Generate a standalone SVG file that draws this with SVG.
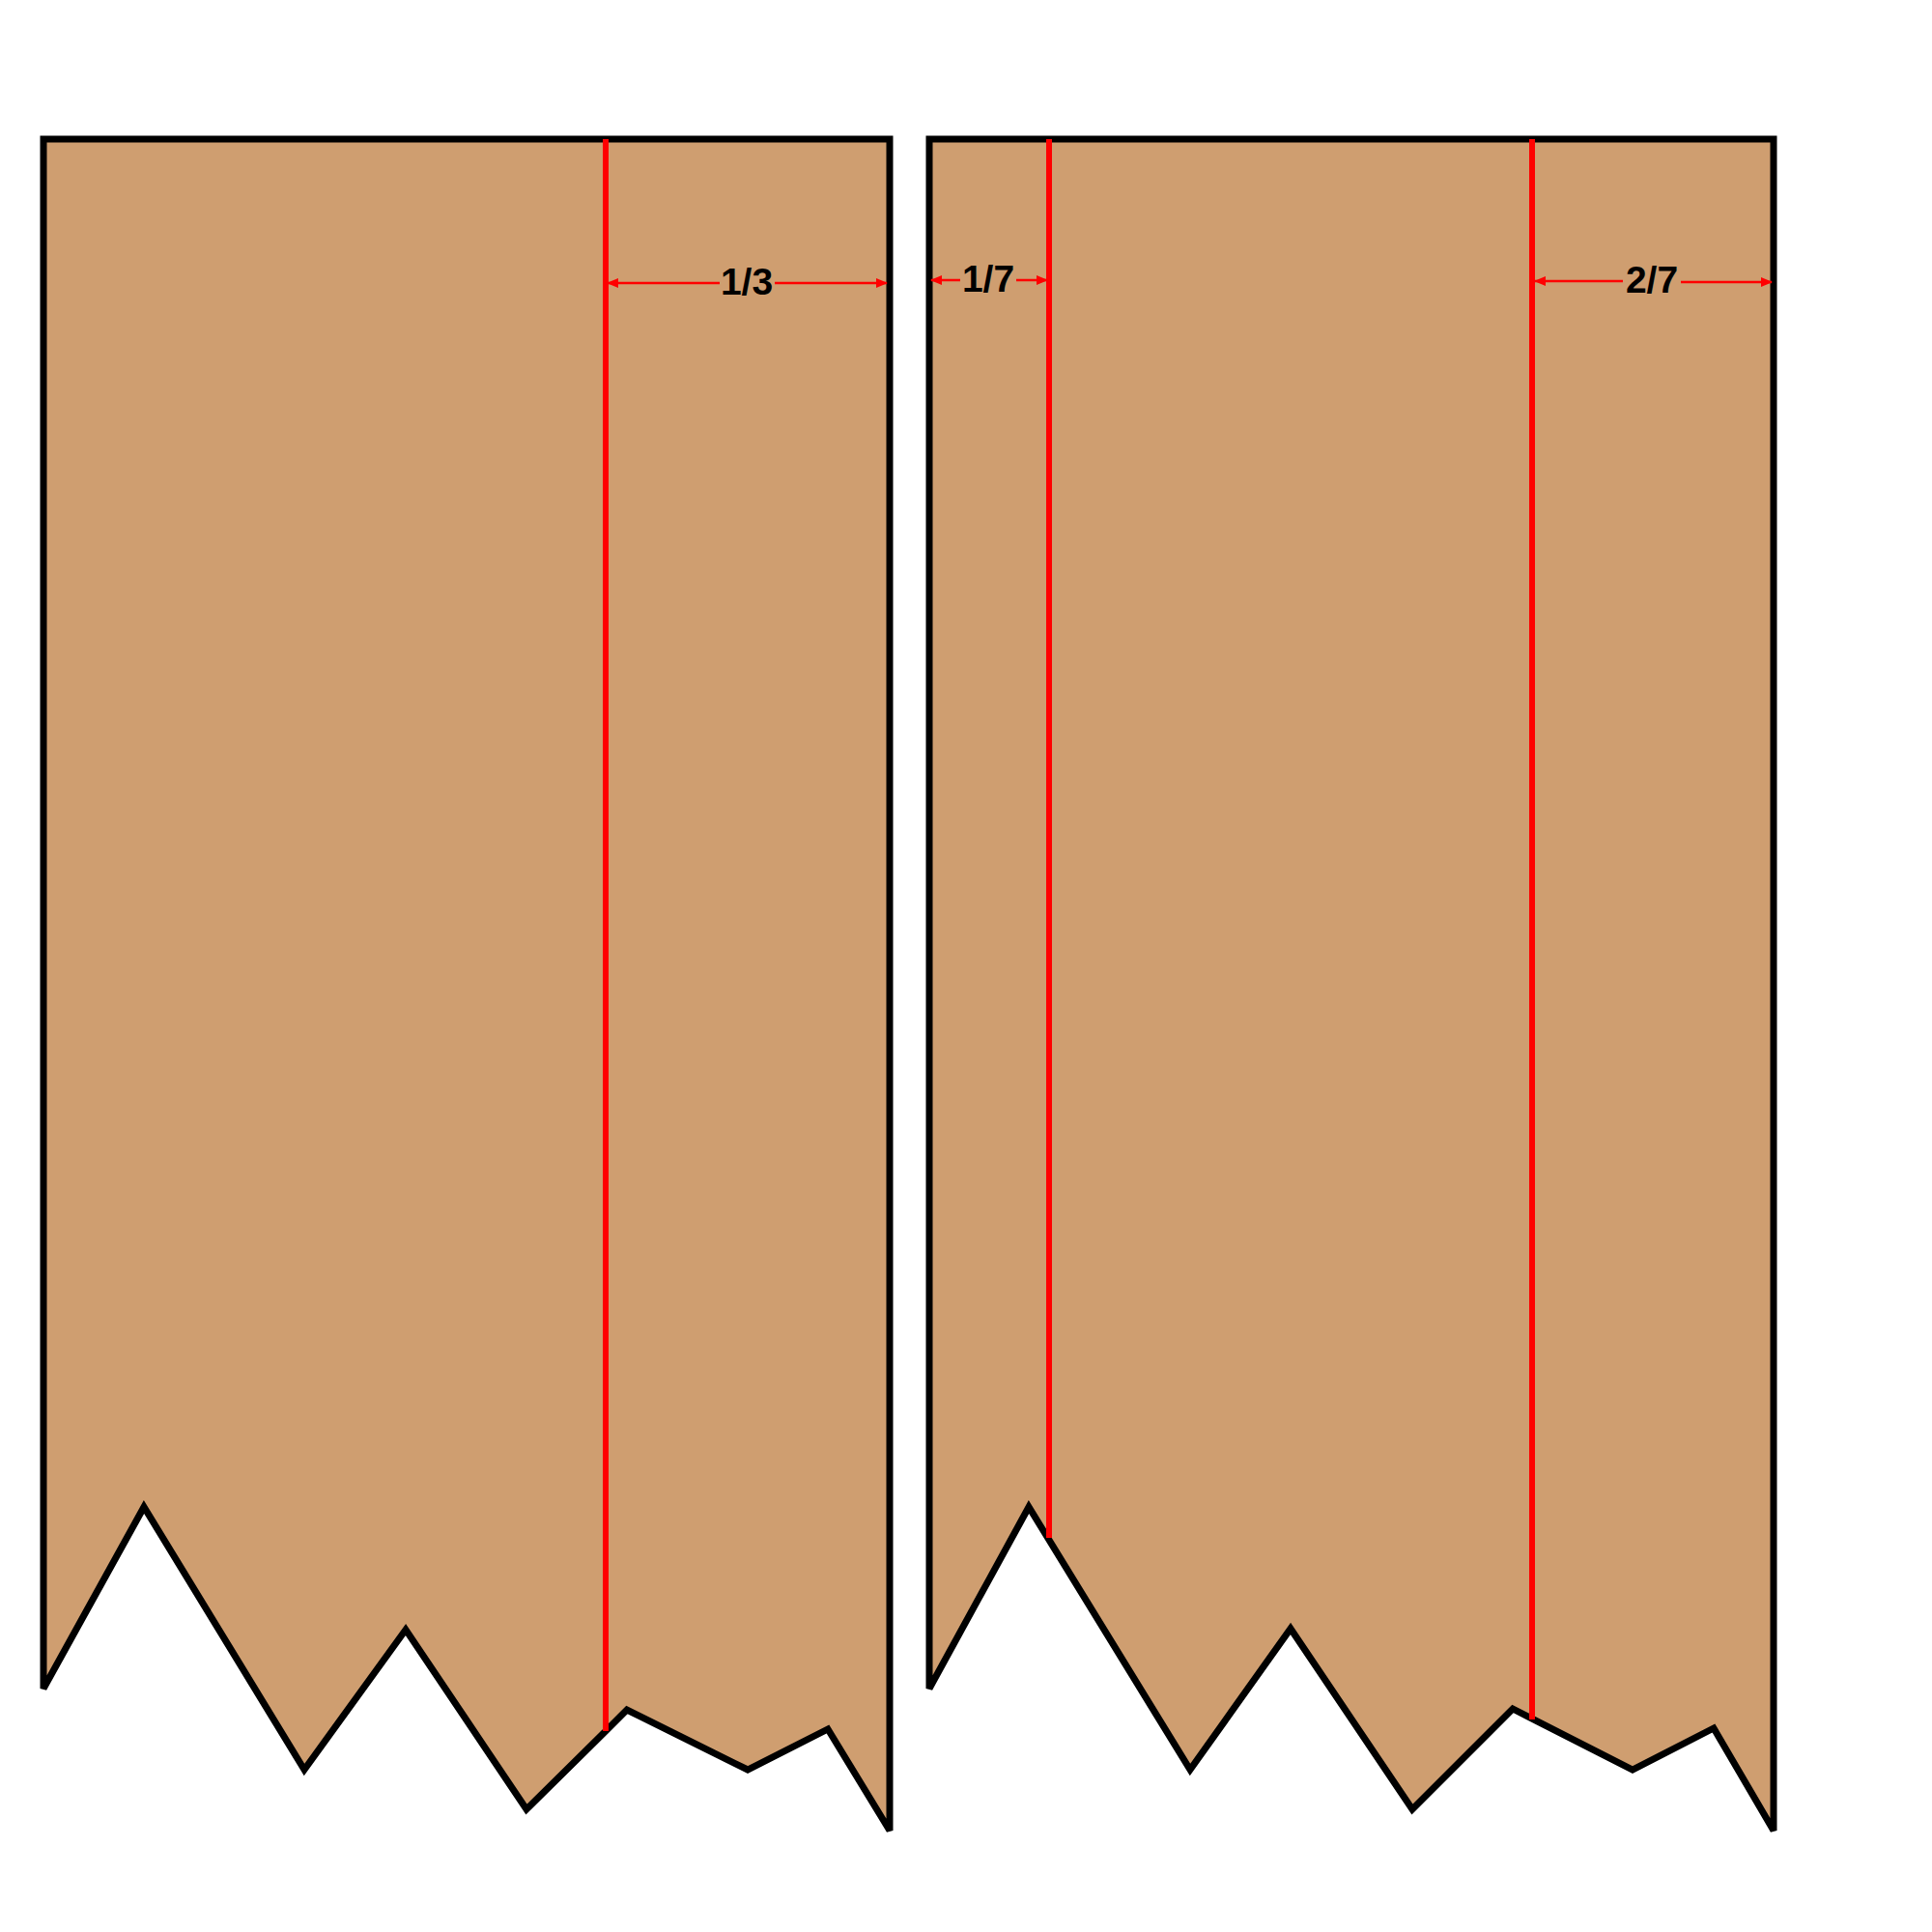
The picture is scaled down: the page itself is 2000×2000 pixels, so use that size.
<svg xmlns="http://www.w3.org/2000/svg" width="2000" height="2000" viewBox="0 0 2000 2000">
<style>
.panel{fill:#CF9E70;stroke:#000;stroke-width:7;stroke-linejoin:miter;stroke-miterlimit:2}
.cut{stroke:#FF0000;stroke-width:6;fill:none}
.dim{stroke:#FF0000;stroke-width:2.5;fill:none;marker-end:url(#ah)}
.lbl{font-family:"Liberation Sans",Arial,sans-serif;font-weight:bold;font-size:39px;fill:#000;text-anchor:middle}
</style>
<defs>
<marker id="ah" markerUnits="userSpaceOnUse" markerWidth="12" markerHeight="10" refX="11" refY="5" orient="auto">
<path d="M0,0 L12,5 L0,10 Z" fill="#FF0000"/>
</marker>
</defs>
<rect width="2000" height="2000" fill="#fff"/>
<g id="panel-left">
<polygon class="panel" points="45,144 921,144 921,1895 857,1790 774,1832 649,1770 627,1792 545,1873 420,1687 315,1832 149,1560 45,1748"/>
<line class="cut" x1="627" y1="144" x2="627" y2="1792"/>
</g>
<g id="panel-right">
<polygon class="panel" points="962,144 1836,144 1836,1895 1774,1789 1690,1832 1566,1769 1462,1873 1336,1686 1232,1832 1065,1560 962,1748"/>
<line class="cut" x1="1086" y1="144" x2="1086" y2="1592"/>
<line class="cut" x1="1586" y1="144" x2="1586" y2="1780"/>
</g>
<g id="dimensions">
<line class="dim" x1="745" y1="293" x2="629" y2="293"/>
<line class="dim" x1="802" y1="293" x2="918" y2="293"/>
<line class="dim" x1="994" y1="290" x2="964" y2="290"/>
<line class="dim" x1="1052" y1="290" x2="1084" y2="290"/>
<line class="dim" x1="1680" y1="291" x2="1589" y2="291"/>
<line class="dim" x1="1740" y1="292" x2="1834" y2="292"/>
</g>
<g id="labels">
<text class="lbl" x="773" y="305">1/3</text>
<text class="lbl" x="1023" y="302">1/7</text>
<text class="lbl" x="1710" y="303">2/7</text>
</g>
</svg>
